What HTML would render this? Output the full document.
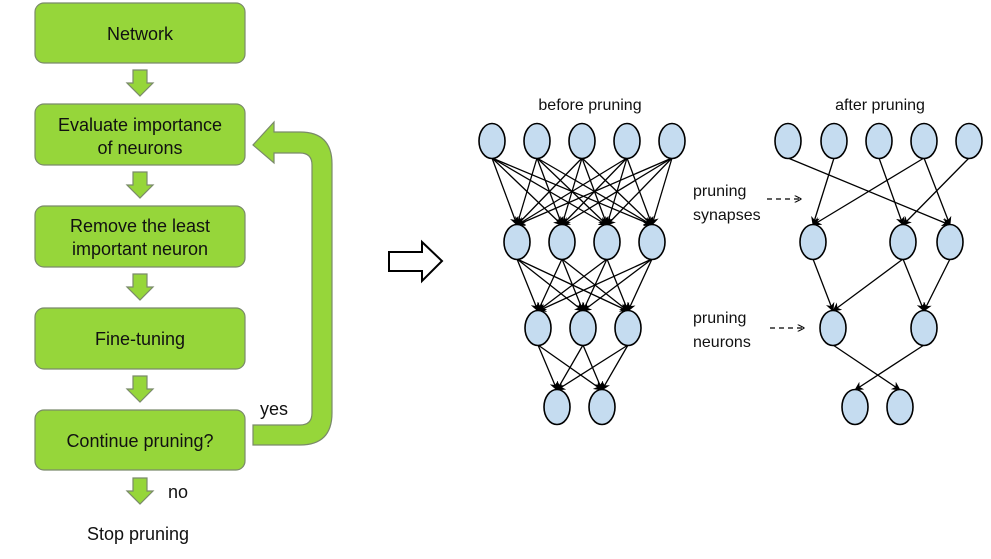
<!DOCTYPE html>
<html><head><meta charset="utf-8"><style>
body{margin:0;background:#fff;}
svg{display:block;font-family:"Liberation Sans",Arial,sans-serif;}
</style></head><body>
<svg id="s" width="991" height="559" viewBox="0 0 991 559" xmlns="http://www.w3.org/2000/svg">
<defs>
<marker id="ah" viewBox="0 0 10 10" refX="9" refY="5" markerWidth="9" markerHeight="9" markerUnits="userSpaceOnUse" orient="auto">
<path d="M0,0 L10,5 L0,10 L3,5 Z" fill="#000"/>
</marker>
<marker id="ah2" viewBox="0 0 10 10" refX="9" refY="5" markerWidth="7" markerHeight="7" markerUnits="userSpaceOnUse" orient="auto">
<path d="M0,0 L10,5 L0,10" fill="none" stroke="#000" stroke-width="1.5"/>
</marker>
</defs>
<g fill="#96d63a" stroke="#7a8a6a" stroke-width="1.2">
<rect x="35" y="3" width="210" height="60" rx="9"/>
<rect x="35" y="104" width="210" height="61" rx="9"/>
<rect x="35" y="206" width="210" height="61" rx="9"/>
<rect x="35" y="308" width="210" height="61" rx="9"/>
<rect x="35" y="410" width="210" height="60" rx="9"/>
<path d="M133,70 h14 v13 h6 l-13,13 l-13,-13 h6 z"/>
<path d="M133,172 h14 v13 h6 l-13,13 l-13,-13 h6 z"/>
<path d="M133,274 h14 v13 h6 l-13,13 l-13,-13 h6 z"/>
<path d="M133,376 h14 v13 h6 l-13,13 l-13,-13 h6 z"/>
<path d="M133,478 h14 v13 h6 l-13,13 l-13,-13 h6 z"/>
<path d="M253,425 H300 Q312,425 312,413 V165 Q312,153 300,153 H274 V163 L253,145 L274,122 V132 H300 Q332,132 332,164 V413 Q332,445 300,445 H253 Z"/>
</g>
<g font-size="18" fill="#111" text-anchor="middle">
<text x="140" y="40">Network</text>
<text x="140" y="131">Evaluate importance</text>
<text x="140" y="154">of neurons</text>
<text x="140" y="232">Remove the least</text>
<text x="140" y="255">important neuron</text>
<text x="140" y="345">Fine-tuning</text>
<text x="140" y="447">Continue pruning?</text>
<text x="274" y="415">yes</text>
<text x="178" y="498">no</text>
<text x="138" y="540">Stop pruning</text>
</g>
<path d="M389,252 H422 V242 L442,261 L422,281 V271 H389 Z" fill="#fff" stroke="#000" stroke-width="2"/>
<g font-size="16" fill="#111">
<text x="590" y="110" text-anchor="middle">before pruning</text>
<text x="880" y="110" text-anchor="middle">after pruning</text>
<text x="693" y="196">pruning</text>
<text x="693" y="220">synapses</text>
<text x="693" y="323">pruning</text>
<text x="693" y="347">neurons</text>
</g>
<g stroke="#000" stroke-width="1.3" stroke-dasharray="5,4" fill="none">
<line x1="767" y1="199" x2="801" y2="199" marker-end="url(#ah2)"/>
<line x1="770" y1="328" x2="804" y2="328" marker-end="url(#ah2)"/>
</g>
<g id="edges" stroke="#000" stroke-width="1.3"></g>
<g id="nodes" fill="#c5dcf0" stroke="#000" stroke-width="1.6"></g>
</svg>
<script>
var NS="http://www.w3.org/2000/svg";
var B=[[[492,537,582,627,672],141],[[517,562,607,652],242],[[538,583,628],328],[[557,602],407]];
var A=[[[788,834,879,924,969],141],[[813,903,950],242],[[833,924],328],[[855,900],407]];
var eg=document.getElementById("edges"),ng=document.getElementById("nodes");
function line(x1,y1,x2,y2){var l=document.createElementNS(NS,"line");l.setAttribute("x1",x1);l.setAttribute("y1",y1+17);l.setAttribute("x2",x2);l.setAttribute("y2",y2-17);l.setAttribute("marker-end","url(#ah)");eg.appendChild(l);}
function nodes(L){L.forEach(function(r){r[0].forEach(function(x){var e=document.createElementNS(NS,"ellipse");e.setAttribute("cx",x);e.setAttribute("cy",r[1]);e.setAttribute("rx",13);e.setAttribute("ry",17.5);ng.appendChild(e);});});}
for(var i=0;i<3;i++){B[i][0].forEach(function(a){B[i+1][0].forEach(function(b){line(a,B[i][1],b,B[i+1][1]);});});}
var AE=[[0,0,2],[0,1,0],[0,2,1],[0,3,0],[0,3,2],[0,4,1],[1,0,0],[1,1,0],[1,1,1],[1,2,1],[2,0,1],[2,1,0]];
AE.forEach(function(e){line(A[e[0]][0][e[1]],A[e[0]][1],A[e[0]+1][0][e[2]],A[e[0]+1][1]);});
nodes(B);nodes(A);
</script>
</body></html>
